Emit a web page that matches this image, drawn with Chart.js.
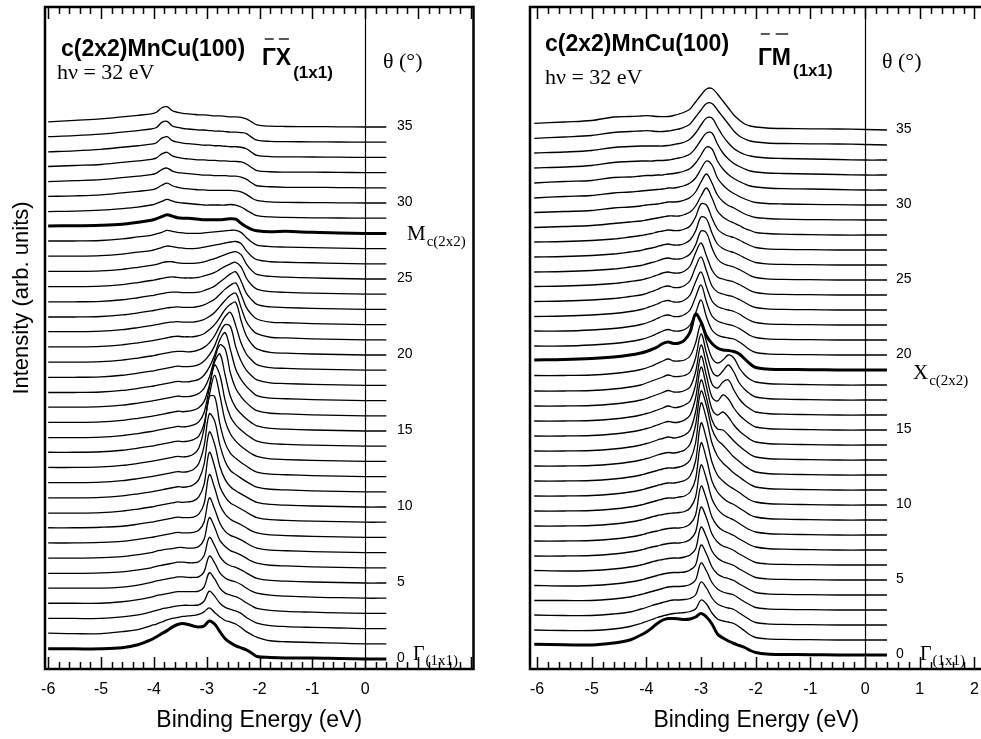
<!DOCTYPE html>
<html>
<head>
<meta charset="utf-8">
<script src="https://cdn.jsdelivr.net/npm/chart.js@4.4.1/dist/chart.umd.min.js"></script>
<style>
  html, body { margin: 0; padding: 0; background: #fff; overflow: hidden; }
  body { width: 981px; height: 739px; position: relative; }
  canvas { position: absolute; top: 0; }
  #gx { left: 0; }
  #gm { left: 490px; }
</style>
</head>
<body>
<canvas id="gx" width="490" height="739"></canvas>
<canvas id="gm" width="500" height="739"></canvas>
<script>
// emission angles, one spectrum each; spectra are stacked 15 units per degree
const angles = [0,1,2,3,4,5,6,7,8,9,10,11,12,13,14,15,16,17,18,19,20,21,22,23,24,25,26,27,28,29,30,31,32,33,34,35];
const angleLabels = [0, 5, 10, 15, 20, 25, 30, 35];
const stepPerDegree = 15;

// binding energies (eV) of the sampled points
const energiesGX = [-6.0,-5.5,-5.0,-4.6,-4.3,-4.05,-3.95,-3.85,-3.75,-3.65,-3.55,-3.45,-3.35,-3.25,-3.15,-3.05,-2.95,-2.85,-2.75,-2.65,-2.55,-2.45,-2.35,-2.25,-2.15,-2.05,-1.8,-1.5,-1.0,-0.5,0.0,0.4];
const energiesGM = [-6.05,-5.5,-5.0,-4.6,-4.3,-4.1,-4.0,-3.9,-3.8,-3.7,-3.6,-3.5,-3.4,-3.3,-3.2,-3.1,-3.0,-2.9,-2.8,-2.7,-2.6,-2.5,-2.4,-2.3,-2.2,-2.1,-2.0,-1.8,-1.5,-1.0,-0.5,0.0,0.4];

// intensities along Gamma-X, one row per angle (0..35)
const spectraGX = [
  [10,10,10,11,14,19,22,25,28,31.5,34,35,34,32.5,31.5,32.5,37.5,34.5,27,20,16,13,11,9,6,2.5,1.5,1,1,0.5,0,0],
  [10.5,10,10,12,14,18,19.5,21.5,23.5,25,26,27,27.5,28,29,31.5,35.5,31,26.5,23,21.5,19.5,16,12,9,6.5,3,2,1.3,0.6,0,0],
  [10,10,10,11.5,13.5,16.5,18,19.5,20.5,21.5,22.5,23,23,23,23.5,27,37,32,25,21,19,17.5,15,11,8,5.5,3,2,1.2,0.6,0,0],
  [10,10,10,11.5,13.5,16,17.5,18.5,19.5,20.5,21.5,21.5,21.5,21.5,22,26,40,34,25,20,18,16.5,14,10.5,7.5,5,3,2,1.2,0.5,0,0],
  [10,10,10,11,13,15.5,17,18,19,20,21,21,20.5,20.5,21,26,41.5,35,25,20,17.5,16,13.5,10,7,5,3,2,1,0.5,0,0],
  [9.5,9.5,10,11,13,15,16.5,17.5,18.5,19.5,20.5,20.5,20,20,21,27,45,37,26,20,17,15.5,13,10,7,4.5,2.5,1.8,1,0.5,0,0],
  [9.5,9.5,10,11,13,15,16.5,17.5,18.5,19,20,20,19.5,19.5,21,28,49.5,40,27,21,17,15,12.5,9.5,6.5,4.5,2.5,1.8,1,0.5,0,0],
  [9.5,9.5,10,11,13,15,16,17,18,19,20,19.5,19.5,20,22,30,54,43,29,21,17,15,12.5,9.5,6.5,4.5,2.5,1.8,1,0.5,0,0],
  [9.5,9.5,10,11,13,15,16,17,18,19,20,19.5,19.5,20,23,33,62,49,32,23,18,15,12.5,9.5,6.5,4.5,2.5,1.8,1,0.5,0,0],
  [9,9,9.5,11,13,15,16,17,18,19,20,19.5,20,21,25,37,69,55,35,25,19,16,13,10,7,4.5,2.5,1.8,1,0.5,0,0],
  [9,9,9.5,11,13,15,16,17,18,19,20,19.5,20,22,27,42,74,62,40,27,20,16,13,10,7,4.5,2.5,1.8,1,0.5,0,0],
  [9,9,9.5,11,13,15,16,17,18,19,20,19.5,20,22,28,45,77,70,46,30,21,17,13.5,10,7,4.5,2.5,1.8,1,0.5,0,0],
  [9,9,9.5,11,13,15,16,17,18,19,20,19.5,20,22,28,47,79,79,52,33,23,18,14,10.5,7,4.5,2.5,1.8,1,0.5,0,0],
  [9,9,9.5,11,13,15,16,17,18,19,20,19.5,20,21.5,25,37,65,85,65,40,27,20,15,11,7.5,5,2.5,1.8,1,0.5,0,0],
  [8.5,8.5,9,10.5,12.5,14.5,15.5,16.5,17.5,18.5,19.5,19,19.5,21,24,33,57,80,70,45,29,21,16,11.5,8,5,2.5,1.8,1,0.5,0,0],
  [8.5,8.5,9,10.5,12.5,14.5,15.5,16.5,17.5,18.5,19.5,19,19.5,20.5,23,29,45,68,76,55,34,23,17,12,8,5,2.5,1.8,1,0.5,0,0],
  [8.5,8.5,9,10.5,12.5,14.5,15.5,16.5,17.5,18.5,19.5,19,19,20,22,27,38,56,70,66,42,27,19,13,8.5,5,2.5,1.8,1,0.5,0,0],
  [8,8,8.5,10,12,14,15,16,17,18,19,18.5,18.5,19.5,21,25,33,45,60,67,50,31,21,14,9,5,2.5,1.8,1,0.5,0,0],
  [8,8,8.5,10,12,14,15,16,17,18,19,18.5,18.5,19,20.5,24,30,39,52,60,58,38,24,15,9.5,5.5,2.5,1.8,1,0.5,0,0],
  [8,8,8.5,10,12,14,15,16,17,18,18.5,18.5,18,18.5,20,22.5,27,34,44,53,57,44,27,16,10,5.5,2.5,1.8,1,0.5,0,0],
  [8,8,8.5,10,12,14,15,16,17,18,18.5,18,18,18,19,21,25,30,37,45,50,52,34,19,11,6,2.5,1.8,1,0.5,0,0],
  [8,8,8.5,10,12,14,15,16,17,17.5,18,17.5,17.5,17.5,18.5,20,23,27,33,39,44,46,32,18,10.5,6,2.5,1.8,1,0.5,0,0],
  [7.5,7.5,8,9.5,11.5,13.5,14.5,15.5,16.5,17,17.5,17,17,17,18,19.5,22,25,30,35,39,41,30,17,10,5.5,2.5,1.8,1,0.5,0,0],
  [7.5,7.5,8,9.5,11.5,13.5,14.5,15.5,16.5,17,17,16.5,16.5,16.5,17,18.5,20.5,23,27,31,35,37,28,16,9.5,5,2.5,1.8,1,0.5,0,0],
  [7.5,7.5,8,9.5,11.5,13.5,14.5,15.5,16.5,17,16.5,16,16,16,16.5,18,19.5,21.5,24.5,27.5,30,31.5,27,16,9,5,2.5,1.8,1,0.5,0,0],
  [7.5,7.5,8,9.5,11.5,13.5,14.5,16,17,17,16,15.5,15.5,15.5,16,17,18.5,20,22,24,26,27,24,15,8.5,4.5,2.5,1.8,1,0.5,0,0],
  [7.5,7.5,8,9.5,11.5,13,14.5,16,17.5,17,16,15.5,15,15,15.5,16.5,17.5,18.5,19.5,20.5,21.5,22,20,13,7.5,4,2,1.5,1,0.5,0,0],
  [7.5,7.5,8,9.5,11.5,13,14.5,16,18,17,16,15.5,15,15,15,15.5,16,16.5,17,17.5,18,18,16,11,6.5,3.5,2,1.5,1,0.5,0,0],
  [7.4,7.5,8,9,11,13,14.5,16.5,18.5,17,15.5,15,15,14.5,14,13.5,13.5,13.5,13.5,14,14.5,14,10,6.5,4,2.5,1.5,2,1,0.5,0,0],
  [6.5,7,8,9.5,11,13,14.5,16.5,18.5,17,15.5,15,14.5,14,13.5,13,13,13,13,13,13.5,13,11,8,5,2.5,1.2,0.8,0.4,0.2,0,0],
  [6.5,7,8,10,11.5,13,14.5,17.5,19.5,17,15.5,14.5,14,13.5,13,13,12.5,12.5,12.5,12.5,12.5,12,11,8.5,5,2.5,1,0.6,0.4,0.2,0,0],
  [6,7,8,10,11.5,13,14.5,18,19.5,16.5,15,14.5,14,13.5,13,12.5,12.5,12,12,12,11.5,11.5,10.5,8.5,5,2,1,0.5,0.4,0.2,0,0],
  [6,7,8,10,11.5,13,14.5,18.5,20,16.5,15,14,13.5,13,12.5,12.5,12,12,11.5,11.5,11,11,10.5,8.5,5,2,0.8,0.5,0.4,0.2,0,0],
  [5.5,6.5,8,10,11.5,13,14.5,19,20.5,16.5,15,14,13.5,13,12.5,12,12,11.5,11.5,11,10.5,10.5,10,8.5,5,2,0.8,0.5,0.4,0.2,0,0],
  [5.5,6.5,8,10,11.5,13,14.5,19.5,20.5,16,14.5,13.5,13,12.5,12,12,11.5,11,11,10.5,10,10,9.5,8.5,5,2,0.8,0.5,0.4,0.2,0,0],
  [5,6.5,8,10,11.5,13,14.5,19,20,16,14.5,13.5,13,12.5,12,12,11.5,11,11,10.5,10,10,9.5,8,5,2,0.8,0.5,0.4,0.2,0,0]
];

// intensities along Gamma-M, one row per angle (0..35)
const spectraGM = [
  [10.7,10.3,10,12,15,20,23,27,31.5,35,36.5,36.5,36,35.5,36,38,41.5,38,31,21,17,14,11.5,9.5,7.5,4.5,2.5,1,0.5,0.3,0,0,0],
  [10,9.5,9.5,11,13.5,16.5,18.5,20.5,22.5,24,25.5,26.5,27,27.5,28.5,31,40,36,27,21,19,18,16.5,13,9,5,2.5,1.2,0.6,0.3,0,0,0],
  [10,9.5,9.5,11,13,16,17.5,19.5,21,22.5,24,25,25,25.5,26.5,30,43,37,27,21,18.5,17,15.5,12,8.5,5,2.5,1.2,0.6,0.3,0,0,0],
  [9.5,9.5,9.5,11,13,15.5,17,18.5,20,21.5,23,23.5,23.5,24,25.5,30,47,39,27.5,21,18,16.5,15,11.5,8,5,2.5,1.2,0.6,0.3,0,0,0],
  [9.5,9,9.5,11,13,15,16.5,18,19.5,21,22,22.5,22.5,23,25,30,50,41,28,21,18,16.5,14.5,11,8,5,2.5,1.2,0.6,0.3,0,0,0],
  [9.5,9,9.5,11,13,15,16.5,18,19.5,20.5,21.5,22,22,23,25,31,53,43,29,22,18.5,16.5,14.5,11,8,5,2.5,1.2,0.6,0.3,0,0,0],
  [9,9,9.5,11,13,15,16.5,18,19,20.5,21.5,22,22,23,25.5,33,58,47,31,23,19,17,14.5,11,8,5,2.5,1.2,0.6,0.3,0,0,0],
  [9,9,9.5,11,13,15,16.5,18,19,20.5,21.5,22,22,23,26,35,64,51,33,24,19.5,17,14.5,11,8,5,3,1.5,0.8,0.4,0,0,0],
  [9,9,9.5,11,13,15,16.5,18,19.5,20.5,21.5,22,22.5,23.5,27,38,70,56,36,26,20.5,17.5,15,11.5,8,5,3,1.5,0.8,0.4,0,0,0],
  [9,9,9.5,11,13,15,16.5,18,19.5,21,22,22,23,24,28,41,77,61,39,28,22,18,15.5,12,8.5,5,3,1.5,0.8,0.4,0,0,0],
  [9,9,9.5,11,13,15,16.5,18,19.5,21,22,22,23,24.5,29,44,82,66,43,30,24,19.5,16,12.5,8.5,5,3,1.5,0.8,0.4,0,0,0],
  [9,9,9.5,11,13,15,16.5,18,19.5,21,22,22,23,25,30,47,87,71,47,34,27,22,17,13,9,5.5,3,1.5,0.8,0.4,0,0,0],
  [9,9,9.5,11,13,15,16.5,18,20,21.5,22.5,22,23,25,31,50,84,69,46,35,30,24,18,13.5,9,5.5,3,1.5,0.8,0.4,0,0,0],
  [9,9,9.5,11,13,15,16.5,18,20,21.5,23,22,23,25,30,48,80,62,40,31,30,25,19,14,9.5,5.5,3,1.5,0.8,0.4,0,0,0],
  [9,9,9.5,11,13,15,16.5,18,20,22,23.5,22.5,23,25,30,47,78,58,36,30,33,28,20,14,9.5,5.5,3,1.5,0.8,0.4,0,0,0],
  [9,9,9.5,11,13,15,16.5,18,20,22,24,22.5,23,25,29,45,74,54,33,29,35,31,22,15,10,6,3,1.5,0.8,0.4,0,0,0],
  [9,9,9.5,11,13,15,16.5,18.5,20.5,22.5,24.5,23,23,24.5,28,43,70,51,31,27,33,35,25,16,10,6,3,1.5,0.8,0.4,0,0,0],
  [9,9,9.5,11,13,15,17,19,21,23,25,23.5,23.5,24.5,28,42,66,47,29,24,29,35,28,17,10.5,6,3,1.5,0.8,0.4,0,0,0],
  [9.5,9.5,10,11.5,13.5,15.5,17,19,21.5,24,26,24,24,25,29,42,61,43,27,22,25,30,27,17,10,5.5,3,1.5,0.8,0.4,0,0,0],
  [10,10.5,11.5,13,15,17,18.5,20.5,23,26.5,28,26.5,27,30,38,56,48,34,26.5,22,20,19.5,18.5,16,11,6,2.5,1,0.5,0.3,0,0,0],
  [9,9,10,11.5,13.5,15.5,17,19,21.5,24,25.5,24,24,25.5,30,42,55,38,25,20,18,17,16,13,9,5,2.5,1.2,0.6,0.3,0,0,0],
  [9,9,10,11.5,13.5,15.5,17,19,21.5,24,25,23.5,23.5,25.5,30,43,55,38,24,19,17,15.5,14,11.5,8,4.5,2.5,1.2,0.6,0.3,0,0,0],
  [8.5,9,10,11.5,13.5,15.5,17,19,21,23.5,24.5,23,23,25,30,43,53,38,24,18.5,16.5,15,13.5,11,7.5,4.5,2.5,1.2,0.6,0.3,0,0,0],
  [8.5,9,10,11.5,13.5,15,16.5,18.5,20.5,23,24,22.5,22.5,24.5,29.5,43,53,39,24,18,16,14.5,13,10.5,7.5,4.5,2.5,1.2,0.6,0.3,0,0,0],
  [8.5,9,10,11.5,13.5,15,16.5,18,20,22,23,22,22,24,29,42,52,39,25,18,16,14.5,13,10.5,7.5,4.5,2.5,1.2,0.6,0.3,0,0,0],
  [8,8.5,9.5,11,13,14.5,16,17.5,19,21,22,21,21,22.5,26,35,49,47,32,21,16.5,14.5,13,10.5,7.5,4.5,2.5,1.2,0.6,0.3,0,0,0],
  [8,8.5,9.5,11,13,14.5,16,17,18.5,20,21,20,20,21.5,25,34,48,46,32,21,16.5,14,12.5,10,7,4.5,2.5,1.2,0.6,0.3,0,0,0],
  [8,8.5,9.5,11,13,14.5,15.5,16.5,18,19,20,19.5,19.5,21,24,33,46,45,32,21,16.5,14,12.5,10,7,4.5,2.5,1.2,0.6,0.3,0,0,0],
  [7.5,8.5,9.5,11.5,13,14,15,16,17,18,19,19,19,20.5,23,29,39,47,37,24,18,14.5,12,9.5,6.5,4.5,2.5,1.5,0.8,0.4,0,0,0],
  [7.5,8.5,9.5,12,13,14,15,15.5,16,17,18,18,18.5,20,22.5,28,38,46,37,25,18.5,14.5,12,9,6,4,2.5,1.5,0.8,0.4,0.2,0,0],
  [7,8.5,9.5,12,13,14,14.5,15,15.5,16,17,17,18,19.5,22,27,36,44,40,27,20,15,11.5,8.5,6,4,2.5,1.5,1,0.6,0.3,0,0],
  [7,8.5,9.5,12.5,13,14,14.5,14.5,15,15,16,16.5,17.5,19,21.5,27,35,43,41,29,21,15.5,11.5,8.5,6,4,3,2,1.3,1,0.5,0,0],
  [7,8,9.5,12.5,13.5,14,14,14,14.5,14.5,15,16,17,18.5,21,27,35,42,42,31,22,16,11.5,8.5,6,4,3,2,1.5,1,0.5,0,0],
  [7,8,9.5,12.5,13.5,14,14,14,14,14,14.5,15.5,16.5,18,21,27,35,42,42,33,24,17,11.5,8,5.5,4,3,2,1.5,1,0.5,0,0],
  [6.6,8,9.5,12.5,13.5,14,14.3,14,13.5,13.5,14,15,16,18,21,28,35,41.5,41.5,35,28,21,14,9,6,4,3,2,1.5,1.2,1,0.5,0],
  [6.6,8,9.5,13,13.5,14,14.3,14,13.5,13.3,13.5,14.5,16,18,21,28,35,41,41.5,36,29,22,15,10,6,4,3,2,1.5,1.2,1,0.5,0]
];

// spectra drawn with a heavy line (high-symmetry points)
const boldGX = [0, 28];
const boldGM = [0, 19];

const SANS = "'Liberation Sans', Arial, Helvetica, sans-serif";
const SERIF = "'Liberation Serif', 'Times New Roman', serif";

// texts placed on each panel (canvas pixels)
const panelText = {
  gx: { title: [61, 56], photon: [57, 79], dir: ['Γ', 'X'], dirAt: [262, 65], subY: 78, barY: 39,
        theta: [383, 68], angleX: 397, point: ['M', 'c(2x2)', 407, 240, 246], gamma: [413, 660, 665], yTitle: [22, 298] },
  gm: { title: [55, 51], photon: [55, 84], dir: ['Γ', 'M'], dirAt: [268, 65], subY: 76, barY: 34,
        theta: [392, 68], angleX: 406, point: ['X', 'c(2x2)', 423, 379, 385], gamma: [430, 660, 665], yTitle: null }
};

function put(ctx, s, x, y, font, align) {
  ctx.font = font;
  ctx.textAlign = align || 'left';
  ctx.fillText(s, x, y);
  return ctx.measureText(s).width;
}

const frame = {
  id: 'frame',
  afterDatasetsDraw(chart) {
    const { ctx, chartArea: a, scales: { x, y } } = chart;
    const t = panelText[chart.canvas.id];
    ctx.save();
    ctx.strokeStyle = '#000';
    ctx.fillStyle = '#000';

    // line at the Fermi level
    const x0 = Math.round(x.getPixelForValue(0)) + 0.5;
    ctx.lineWidth = 1.2;
    ctx.beginPath();
    ctx.moveTo(x0, a.top);
    ctx.lineTo(x0, a.bottom);
    ctx.stroke();

    // inward ticks, minor every 0.2 eV
    ctx.lineWidth = 1.5;
    ctx.beginPath();
    for (let i = -35; i <= 15; i++) {
      const e = i * 0.2;
      if (e < x.min || e > x.max) continue;
      const px = Math.round(x.getPixelForValue(e)) + 0.5;
      const len = i % 5 === 0 ? 12 : 7;
      ctx.moveTo(px, a.top); ctx.lineTo(px, a.top + len);
      ctx.moveTo(px, a.bottom); ctx.lineTo(px, a.bottom - len);
    }
    ctx.stroke();

    ctx.lineWidth = 2.5;
    ctx.strokeRect(a.left, a.top, a.width, a.height);

    // headers
    ctx.textBaseline = 'alphabetic';
    put(ctx, 'c(2x2)MnCu(100)', t.title[0], t.title[1], 'bold 23px ' + SANS);
    put(ctx, 'hν = 32 eV', t.photon[0], t.photon[1], '22px ' + SERIF);
    let xx = t.dirAt[0];
    ctx.lineWidth = 1.3;
    for (const ch of t.dir) {
      const w = put(ctx, ch, xx, t.dirAt[1], 'bold 23px ' + SANS);
      ctx.beginPath();
      ctx.moveTo(xx + w * 0.2, t.barY);
      ctx.lineTo(xx + w * 0.85, t.barY);
      ctx.stroke();
      xx += w;
    }
    put(ctx, '(1x1)', xx + 2, t.subY, 'bold 17px ' + SANS);
    put(ctx, 'θ (°)', t.theta[0], t.theta[1], '22px ' + SERIF);

    // angle labels beside the spectra
    ctx.textBaseline = 'middle';
    for (const ang of angleLabels) {
      put(ctx, String(ang), t.angleX, y.getPixelForValue(ang * stepPerDegree) - 0.5, '14px ' + SANS);
    }

    // high-symmetry point labels
    ctx.textBaseline = 'alphabetic';
    const p = t.point;
    const wp = put(ctx, p[0], p[2], p[3], '21px ' + SERIF);
    put(ctx, p[1], p[2] + wp + 1, p[4], '15px ' + SERIF);
    const wg = put(ctx, 'Γ', t.gamma[0], t.gamma[1], '20px ' + SERIF);
    put(ctx, '(1x1)', t.gamma[0] + wg + 1, t.gamma[2], '15px ' + SERIF);

    if (t.yTitle) {
      ctx.translate(t.yTitle[0], t.yTitle[1]);
      ctx.rotate(-Math.PI / 2);
      ctx.textBaseline = 'middle';
      put(ctx, 'Intensity (arb. units)', 0, 0, '22px ' + SANS, 'center');
    }
    ctx.restore();
  }
};

function spectraDatasets(energies, spectra, bold) {
  return spectra.map((row, k) => ({
    label: angles[k] + '°',
    data: row.map((v, i) => ({ x: energies[i], y: angles[k] * stepPerDegree + v })),
    borderColor: '#000',
    borderWidth: bold.includes(k) ? 3 : 1.3,
    pointRadius: 0,
    tension: 0.35,
    fill: false
  }));
}

function energyAxis(min, max, showPositive) {
  return {
    type: 'linear', min: min, max: max,
    grid: { display: false, drawTicks: false },
    border: { display: false },
    ticks: {
      stepSize: 1, includeBounds: false, autoSkip: false, maxRotation: 0, padding: 11,
      color: '#000', font: { family: SANS, size: 16 },
      callback: v => (v > 0 && !showPositive) ? '' : String(v)
    },
    title: { display: true, text: 'Binding Energy (eV)', color: '#000',
             font: { family: SANS, size: 23 }, padding: { top: 0, bottom: 5 } },
    afterFit: s => { s.height = 70; }
  };
}

function makePanel(id, energies, spectra, bold, xr, yr, pad, showPositive) {
  return new Chart(document.getElementById(id), {
    type: 'line',
    data: { datasets: spectraDatasets(energies, spectra, bold) },
    options: {
      responsive: false,
      animation: false,
      devicePixelRatio: 1,
      events: [],
      layout: { padding: pad },
      plugins: { legend: { display: false }, tooltip: { enabled: false } },
      scales: {
        x: energyAxis(xr[0], xr[1], showPositive),
        y: { type: 'linear', display: false, min: yr[0], max: yr[1] }
      }
    },
    plugins: [frame]
  });
}

makePanel('gx', energiesGX, spectraGX, boldGX, [-6.06, 2.05], [-9.87, 643.4],
  { left: 45, right: 16.5, top: 7, bottom: 0 }, false);
makePanel('gm', energiesGM, spectraGM, boldGM, [-6.128, 2.15], [-14, 648],
  { left: 40, right: 6.1, top: 7, bottom: 0 }, true);
</script>
</body>
</html>
